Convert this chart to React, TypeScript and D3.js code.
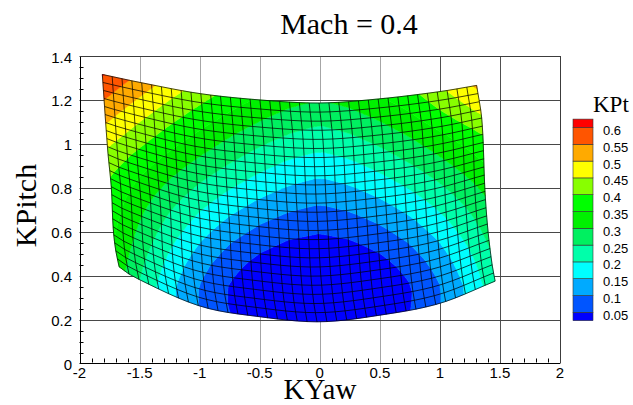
import React, { useMemo } from "react";
import * as d3 from "d3";

const WIDTH = 633;
const HEIGHT = 405;

// Contour levels of KPt and the flood colour of each band (lowest band first)
const levels = [0.05, 0.1, 0.15, 0.2, 0.25, 0.3, 0.35, 0.4, 0.45, 0.5, 0.55, 0.6];
const levelLabels = ["0.05", "0.1", "0.15", "0.2", "0.25", "0.3", "0.35", "0.4", "0.45", "0.5", "0.55", "0.6"];
const bandColors = [
  "#0000ff", "#0055ff", "#00aaff", "#00ffff", "#00ffaa", "#00f060", "#00f000",
  "#00ff00", "#88ff00", "#ffff00", "#ffaa00", "#ff5500", "#ff0000",
];

const xTickValues = [-2, -1.5, -1, -0.5, 0, 0.5, 1, 1.5, 2];
const xTickLabels = ["-2", "-1.5", "-1", "-0.5", "0", "0.5", "1", "1.5", "2"];
const yTickValues = [0, 0.2, 0.4, 0.6, 0.8, 1, 1.2, 1.4];
const yTickLabels = ["0", "0.2", "0.4", "0.6", "0.8", "1", "1.2", "1.4"];

// KPt sampled on a regular KYaw x KPitch grid (rows: KPitch, columns: KYaw)
const fieldYaw = [-2, -1.75, -1.5, -1.25, -1, -0.75, -0.5, -0.25, 0, 0.25, 0.5, 0.75, 1, 1.25, 1.5];
const fieldPitch = [0.15, 0.25, 0.35, 0.45, 0.55, 0.65, 0.75, 0.85, 0.95, 1.05, 1.15, 1.25, 1.35];
const fieldKPt = [
  [0.470, 0.360, 0.265, 0.185, 0.119, 0.068, 0.031, 0.009, 0.002, 0.009, 0.031, 0.068, 0.119, 0.185, 0.265],
  [0.448, 0.339, 0.244, 0.163, 0.097, 0.046, 0.010, -0.012, -0.020, -0.012, 0.010, 0.046, 0.097, 0.163, 0.244],
  [0.448, 0.339, 0.244, 0.163, 0.097, 0.046, 0.010, -0.012, -0.020, -0.012, 0.010, 0.046, 0.097, 0.163, 0.244],
  [0.457, 0.352, 0.260, 0.183, 0.119, 0.068, 0.032, 0.010, 0.002, 0.010, 0.032, 0.068, 0.119, 0.183, 0.260],
  [0.457, 0.362, 0.280, 0.209, 0.150, 0.102, 0.067, 0.044, 0.035, 0.044, 0.067, 0.102, 0.150, 0.209, 0.280],
  [0.451, 0.371, 0.300, 0.238, 0.185, 0.141, 0.107, 0.083, 0.071, 0.083, 0.107, 0.141, 0.185, 0.238, 0.300],
  [0.447, 0.382, 0.322, 0.269, 0.222, 0.182, 0.149, 0.124, 0.110, 0.124, 0.149, 0.182, 0.222, 0.269, 0.322],
  [0.454, 0.401, 0.350, 0.304, 0.261, 0.224, 0.192, 0.166, 0.151, 0.166, 0.192, 0.224, 0.261, 0.304, 0.350],
  [0.483, 0.433, 0.387, 0.343, 0.303, 0.266, 0.234, 0.208, 0.193, 0.208, 0.234, 0.266, 0.303, 0.343, 0.387],
  [0.525, 0.476, 0.429, 0.385, 0.345, 0.308, 0.277, 0.251, 0.235, 0.251, 0.277, 0.308, 0.345, 0.385, 0.429],
  [0.568, 0.519, 0.472, 0.428, 0.388, 0.352, 0.320, 0.294, 0.278, 0.294, 0.320, 0.352, 0.398, 0.443, 0.487],
  [0.612, 0.563, 0.516, 0.472, 0.432, 0.395, 0.364, 0.338, 0.322, 0.338, 0.364, 0.395, 0.444, 0.490, 0.533],
  [0.657, 0.607, 0.561, 0.517, 0.477, 0.440, 0.408, 0.382, 0.367, 0.382, 0.408, 0.440, 0.490, 0.535, 0.578],
];

// Outline of the measured region in (KYaw, KPitch)
const edgeBottom = [[-1.67, 0.44], [-1.55, 0.395], [-1.0, 0.262], [-0.5, 0.213], [0, 0.19], [0.5, 0.22], [1.0, 0.274], [1.46, 0.375]];
const edgeTop = [[-1.81, 1.316], [-1.5, 1.28], [-1.0, 1.229], [-0.5, 1.2], [0, 1.186], [0.5, 1.205], [1.0, 1.238], [1.306, 1.266]];
const edgeLeft = [[-1.67, 0.44], [-1.7, 0.52], [-1.72, 0.62], [-1.735, 0.8], [-1.765, 0.97], [-1.81, 1.316]];
const edgeRight = [[1.46, 0.375], [1.435, 0.45], [1.4, 0.607], [1.375, 0.79], [1.35, 1.107], [1.306, 1.266]];
const meshCols = 38;
const meshRows = 24;

const SERIF = "'Liberation Serif', 'Times New Roman', serif";
const SANS = "'Liberation Sans', Arial, sans-serif";

const x = d3.scaleLinear().domain([-2, 2]).range([79.5, 560]);
const y = d3.scaleLinear().domain([0, 1.4]).range([363.5, 56]);
const legendY = d3.scaleLinear().domain([0.6, 0.05]).range([127.5, 312.3]);

type Node = { px: number; py: number; f: number };

function sampleKPt(xv: number, yv: number): number {
  const ix = Math.max(0, Math.min(fieldYaw.length - 2, d3.bisectRight(fieldYaw, xv) - 1));
  const iy = Math.max(0, Math.min(fieldPitch.length - 2, d3.bisectRight(fieldPitch, yv) - 1));
  const tx = Math.max(0, Math.min(1, (xv - fieldYaw[ix]) / (fieldYaw[ix + 1] - fieldYaw[ix])));
  const ty = Math.max(0, Math.min(1, (yv - fieldPitch[iy]) / (fieldPitch[iy + 1] - fieldPitch[iy])));
  const a = fieldKPt[iy][ix], b = fieldKPt[iy][ix + 1];
  const c = fieldKPt[iy + 1][ix], d = fieldKPt[iy + 1][ix + 1];
  return (1 - ty) * ((1 - tx) * a + tx * b) + ty * ((1 - tx) * c + tx * d);
}

// cubic Hermite curve through the knots (Catmull-Rom style tangents)
function smoothCurve(ks: number[], vs: number[]) {
  const n = ks.length;
  const m = ks.map((_, i) => {
    if (i === 0) return (vs[1] - vs[0]) / (ks[1] - ks[0]);
    if (i === n - 1) return (vs[n - 1] - vs[n - 2]) / (ks[n - 1] - ks[n - 2]);
    return (vs[i + 1] - vs[i - 1]) / (ks[i + 1] - ks[i - 1]);
  });
  return (t: number) => {
    const i = Math.max(0, Math.min(n - 2, d3.bisectRight(ks, t) - 1));
    const h = ks[i + 1] - ks[i];
    const s = (t - ks[i]) / h;
    const s2 = s * s, s3 = s2 * s;
    return (2 * s3 - 3 * s2 + 1) * vs[i] + (s3 - 2 * s2 + s) * h * m[i] +
      (-2 * s3 + 3 * s2) * vs[i + 1] + (s3 - s2) * h * m[i + 1];
  };
}

function clipPoly(poly: Node[], thr: number, above: boolean): Node[] {
  const out: Node[] = [];
  const n = poly.length;
  for (let i = 0; i < n; i++) {
    const a = poly[i];
    const b = poly[(i + 1) % n];
    const ina = above ? a.f >= thr : a.f <= thr;
    const inb = above ? b.f >= thr : b.f <= thr;
    if (ina) out.push(a);
    if (ina !== inb) {
      const t = (thr - a.f) / (b.f - a.f);
      out.push({ px: a.px + t * (b.px - a.px), py: a.py + t * (b.py - a.py), f: thr });
    }
  }
  return out;
}

function polyPath(p: Node[]): string {
  return "M" + p.map((q) => `${q.px.toFixed(2)},${q.py.toFixed(2)}`).join("L") + "Z";
}

function buildMesh() {
  const last = (a: number[][]) => a[a.length - 1];
  const bottomY = smoothCurve(edgeBottom.map((p) => p[0]), edgeBottom.map((p) => p[1]));
  const topY = smoothCurve(edgeTop.map((p) => p[0]), edgeTop.map((p) => p[1]));
  const leftX = smoothCurve(edgeLeft.map((p) => p[1]), edgeLeft.map((p) => p[0]));
  const rightX = smoothCurve(edgeRight.map((p) => p[1]), edgeRight.map((p) => p[0]));
  const c00 = edgeBottom[0], c10 = last(edgeBottom), c01 = edgeTop[0], c11 = last(edgeTop);

  // transfinite (Coons) patch between the four edges
  const meshPoint = (u: number, v: number): [number, number] => {
    const xb = c00[0] + u * (c10[0] - c00[0]);
    const xt = c01[0] + u * (c11[0] - c01[0]);
    const yl = c00[1] + v * (c01[1] - c00[1]);
    const yr = c10[1] + v * (c11[1] - c10[1]);
    const B = [xb, bottomY(xb)], T = [xt, topY(xt)];
    const L = [leftX(yl), yl], R = [rightX(yr), yr];
    const out: [number, number] = [0, 0];
    for (let k = 0; k < 2; k++) {
      out[k] =
        (1 - v) * B[k] + v * T[k] + (1 - u) * L[k] + u * R[k] -
        ((1 - u) * (1 - v) * c00[k] + u * (1 - v) * c10[k] + (1 - u) * v * c01[k] + u * v * c11[k]);
    }
    return out;
  };

  const nodes: Node[][] = [];
  for (let j = 0; j <= meshRows; j++) {
    const row: Node[] = [];
    for (let i = 0; i <= meshCols; i++) {
      const [dx, dy] = meshPoint(i / meshCols, j / meshRows);
      row.push({ px: x(dx), py: y(dy), f: sampleKPt(dx, dy) });
    }
    nodes.push(row);
  }

  const bandOf = (f: number) => d3.bisectRight(levels, f);
  const bandD: string[] = bandColors.map(() => "");
  const addTri = (tri: Node[]) => {
    const fs = tri.map((t) => t.f);
    const b0 = bandOf(d3.min(fs) as number);
    const b1 = bandOf(d3.max(fs) as number);
    if (b0 === b1) {
      bandD[b0] += polyPath(tri);
      return;
    }
    for (let b = b0; b <= b1; b++) {
      let p = tri;
      if (b > 0) p = clipPoly(p, levels[b - 1], true);
      if (p.length >= 3 && b < levels.length) p = clipPoly(p, levels[b], false);
      if (p.length >= 3) bandD[b] += polyPath(p);
    }
  };
  for (let j = 0; j < meshRows; j++) {
    for (let i = 0; i < meshCols; i++) {
      const a = nodes[j][i], b = nodes[j][i + 1], c = nodes[j + 1][i + 1], d = nodes[j + 1][i];
      addTri([a, b, c]);
      addTri([a, c, d]);
    }
  }

  const line = d3.line<Node>().x((n) => n.px).y((n) => n.py);
  let meshD = "";
  for (let j = 0; j <= meshRows; j++) meshD += line(nodes[j]);
  for (let i = 0; i <= meshCols; i++) meshD += line(nodes.map((r) => r[i]));
  return { bandD, meshD };
}

export default function App() {
  const { bandD, meshD } = useMemo(buildMesh, []);
  const x0 = x(-2), x1 = x(2), y0 = y(0), y1 = y(1.4);
  const xMinor = d3.range(-19, 20).map((k) => k / 10).filter((v) => Math.abs(v * 2 - Math.round(v * 2)) > 1e-6);
  const yMinor = d3.range(1, 28).map((k) => k * 0.05).filter((v) => Math.abs(v * 5 - Math.round(v * 5)) > 1e-6);
  const snap = (v: number) => Math.round(v) + 0.5;

  return (
    <svg width={WIDTH} height={HEIGHT} style={{ position: "absolute", left: 0, top: 0, background: "#fff" }}>
      <rect x={0} y={0} width={WIDTH} height={HEIGHT} fill="#fff" />

      {/* grid */}
      {xTickValues.slice(1, -1).map((v) => (
        <line key={"gx" + v} x1={snap(x(v))} x2={snap(x(v))} y1={y1} y2={y0}
          stroke={v >= 1 ? "#505050" : "#a6a6a6"} strokeWidth={1} />
      ))}
      {yTickValues.slice(1, -1).map((v) => (
        <line key={"gy" + v} x1={x0} x2={x1} y1={snap(y(v))} y2={snap(y(v))} stroke="#474747" strokeWidth={1} />
      ))}

      {/* flooded contour bands */}
      {bandD.map((d, b) =>
        d ? <path key={"b" + b} d={d} fill={bandColors[b]} stroke={bandColors[b]} strokeWidth={0.5} strokeLinejoin="round" /> : null
      )}
      {/* mesh */}
      <path d={meshD} fill="none" stroke="#000" strokeWidth={0.8} strokeOpacity={0.9} />

      {/* frame */}
      <line x1={snap(x0)} x2={snap(x0)} y1={y1} y2={y0 + 0.5} stroke="#000" strokeWidth={1} />
      <line x1={x0} x2={x1} y1={snap(y0) - 1} y2={snap(y0) - 1} stroke="#000" strokeWidth={1} />
      <line x1={x0} x2={x1} y1={snap(y1)} y2={snap(y1)} stroke="#3c3c3c" strokeWidth={1} />
      <line x1={snap(x1)} x2={snap(x1)} y1={y1} y2={y0} stroke="#3c3c3c" strokeWidth={1} />

      {/* minor ticks */}
      {xMinor.map((v) => (
        <line key={"mx" + v} x1={snap(x(v))} x2={snap(x(v))} y1={y0 - 1} y2={y0 - 5} stroke="#000" strokeWidth={1} />
      ))}
      {yMinor.map((v) => (
        <line key={"my" + v} x1={x0} x2={x0 + 4} y1={snap(y(v))} y2={snap(y(v))} stroke="#000" strokeWidth={1} />
      ))}

      {/* tick labels */}
      {xTickValues.map((v, i) => (
        <text key={"tx" + v} x={x(v)} y={378} textAnchor="middle" fontFamily={SANS} fontSize={15} fill="#000">
          {xTickLabels[i]}
        </text>
      ))}
      {yTickValues.map((v, i) => (
        <text key={"ty" + v} x={72} y={y(v) + 6.5} textAnchor="end" fontFamily={SANS} fontSize={15} fill="#000">
          {yTickLabels[i]}
        </text>
      ))}

      {/* titles */}
      <text x={349} y={34} textAnchor="middle" fontFamily={SERIF} fontSize={30} fill="#000">Mach = 0.4</text>
      <text x={320} y={398.5} textAnchor="middle" fontFamily={SERIF} fontSize={29} fill="#000">KYaw</text>
      <text transform="translate(36,205.5) rotate(-90)" textAnchor="middle" fontFamily={SERIF} fontSize={30} fill="#000">KPitch</text>

      {/* legend */}
      <text x={593} y={112} fontFamily={SERIF} fontSize={23} fill="#000">KPt</text>
      {bandColors.map((c, b) => {
        const hi = b < levels.length ? levels[b] : levels[levels.length - 1] + 0.025;
        const lo = b > 0 ? levels[b - 1] : levels[0] - 0.025;
        const top = legendY(hi), bot = legendY(lo);
        return <rect key={"lg" + b} x={573} y={top} width={20} height={bot - top} fill={c} stroke="#333" strokeWidth={0.6} />;
      })}
      {levels.map((v, i) => (
        <text key={"ll" + v} x={603} y={legendY(v) + 3} dominantBaseline="central" fontFamily={SANS} fontSize={13} fill="#000">
          {levelLabels[i]}
        </text>
      ))}
    </svg>
  );
}
